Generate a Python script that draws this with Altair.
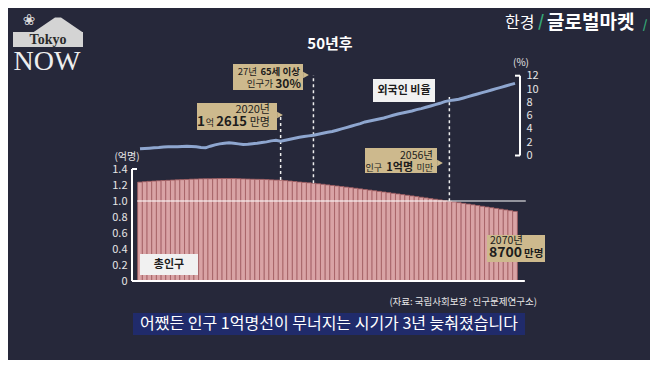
import altair as alt
import pandas as pd

# ---------------- data ----------------
years = list(range(1990, 2071))
# total population (100 million people, 억명)
population = [
    1.2361, 1.2410, 1.2457, 1.2494, 1.2527, 1.2557, 1.2586, 1.2616, 1.2649, 1.2667,
    1.2693, 1.2729, 1.2744, 1.2769, 1.2779, 1.2777, 1.2790, 1.2803, 1.2808, 1.2803,
    1.2806, 1.2783, 1.2759, 1.2741, 1.2724, 1.2709, 1.2704, 1.2679, 1.2644, 1.2617,
    1.2615, 1.2550, 1.2495, 1.2435, 1.2372, 1.2326, 1.2272, 1.2215, 1.2154, 1.2088,
    1.2012, 1.1945, 1.1877, 1.1808, 1.1736, 1.1664, 1.1590, 1.1515, 1.1439, 1.1362,
    1.1284, 1.1205, 1.1125, 1.1044, 1.0962, 1.0880, 1.0798, 1.0716, 1.0634, 1.0551,
    1.0469, 1.0385, 1.0302, 1.0218, 1.0135, 1.0051, 0.9965, 0.9880, 0.9794, 0.9704,
    0.9615, 0.9523, 0.9431, 0.9339, 0.9248, 0.9159, 0.9071, 0.8977, 0.8885, 0.8792,
    0.8700,
]
# share of foreign residents (%)
foreign_ratio = [
    1.00, 1.05, 1.10, 1.15, 1.20, 1.28, 1.30, 1.30, 1.32, 1.35,
    1.38, 1.35, 1.30, 1.20, 1.15, 1.40, 1.60, 1.75, 1.85, 1.90,
    1.85, 1.75, 1.65, 1.70, 1.78, 1.85, 1.95, 2.05, 2.20, 2.30,
    2.15, 2.30, 2.45, 2.60, 2.75, 2.85, 2.95, 3.05, 3.20, 3.35,
    3.50, 3.60, 3.80, 4.00, 4.20, 4.40, 4.60, 4.80, 5.05, 5.20,
    5.35, 5.50, 5.65, 5.85, 6.05, 6.25, 6.40, 6.55, 6.70, 6.90,
    7.05, 7.25, 7.45, 7.65, 7.85, 8.10, 8.25, 8.35, 8.45, 8.65,
    8.85, 9.05, 9.25, 9.45, 9.65, 9.85, 10.05, 10.25, 10.45, 10.65,
    10.85,
]
x_ticks = [1990, 2000, 2010, 2020, 2030, 2040, 2050, 2060, 2070]
pop_ticks = [0, 0.2, 0.4, 0.6, 0.8, 1.0, 1.2, 1.4]
ratio_ticks = [0, 2, 4, 6, 8, 10, 12]
marker_years = [2020, 2027, 2056]
marker_tops = [2.075, 2.575, 2.3]

# ---------------- style ----------------
FONT = "Noto Sans CJK KR"
SERIF = "Liberation Serif"
BG = "#26283a"
TAN = "#cdb98d"
INK = "#1c1c1c"
W, H = 642, 352
X_DOM = [1961.84, 2098.8]
YB_DOM = [-0.9875, 3.4125]
YL_DOM = [-30.75, 22.18]

xs = alt.Scale(domain=X_DOM, nice=False, zero=False)
ybs = alt.Scale(domain=YB_DOM, nice=False, zero=False)
yls = alt.Scale(domain=YL_DOM, nice=False, zero=False)

df = pd.DataFrame({"year": years, "pop": population, "ratio": foreign_ratio})
one = pd.DataFrame({"k": [0]})

bars = alt.Chart(df).transform_calculate(
    x0="datum.year - 0.5", x1="datum.year + 0.5", base="0"
).mark_bar(fill="#d9a3a5", stroke="#a45f63", strokeWidth=0.8).encode(
    x=alt.X("x0:Q", scale=xs, axis=alt.Axis(
        orient="bottom", offset=-79, values=x_ticks,
        labelExpr="datum.value == 1990 ? '1990년' : datum.value == 2000 ? '2000' : toString(datum.value - 2000)",
        domain=False, ticks=False, grid=False, labelColor="#e6e6e6", labelFont=FONT,
        labelFontSize=11, labelPadding=3, labelOverlap=False, title=None)),
    x2="x1:Q",
    y=alt.Y("pop:Q", scale=ybs, axis=alt.Axis(
        orient="left", offset=-124, values=pop_ticks,
        labelExpr="datum.value == 0 ? '0' : format(datum.value, '.1f')",
        domain=False, ticks=False, grid=False, labelColor="#e6e6e6", labelFont=FONT,
        labelFontSize=11, labelPadding=5, labelOverlap=False, title=None)),
    y2="base:Q",
)

one_line = pd.DataFrame({"x0": [1989.4], "x1": [2072.3], "y": [1.0]})
rule_one = alt.Chart(one_line).mark_rule(color="#ffffff", strokeWidth=1.2).encode(
    x=alt.X("x0:Q", scale=xs, axis=None), x2="x1:Q",
    y=alt.Y("y:Q", scale=ybs, axis=None),
)

left_frame = pd.DataFrame({
    "x0": [1988.29, 1988.29, 1988.29], "x1": [1988.29, 1989.36, 2072.1],
    "y0": [0, 1.4, 0], "y1": [1.4, 1.4, 0],
})
frame_l = alt.Chart(left_frame).mark_rule(color="#ffffff", strokeWidth=2).encode(
    x=alt.X("x0:Q", scale=xs, axis=None), x2="x1:Q",
    y=alt.Y("y0:Q", scale=ybs, axis=None), y2="y1:Q",
)
right_frame = pd.DataFrame({
    "x0": [2071.07, 2070.0, 2070.0], "x1": [2071.07, 2071.07, 2071.07],
    "y0": [0, 12, 0], "y1": [12, 12, 0],
})
frame_r = alt.Chart(right_frame).mark_rule(color="#ffffff", strokeWidth=2).encode(
    x=alt.X("x0:Q", scale=xs, axis=None), x2="x1:Q",
    y=alt.Y("y0:Q", scale=yls, axis=None), y2="y1:Q",
)

markers = pd.DataFrame({
    "year": marker_years,
    "bottom": [population[years.index(y)] for y in marker_years],
    "top": marker_tops,
})
dashed = alt.Chart(markers).mark_rule(color="#eeeeee", strokeWidth=1.5, strokeDash=[3, 3]).encode(
    x=alt.X("year:Q", scale=xs, axis=None),
    y=alt.Y("bottom:Q", scale=ybs, axis=None), y2="top:Q",
)

line = alt.Chart(df).mark_line(color="#8ea6cf", strokeWidth=3).encode(
    x=alt.X("year:Q", scale=xs, axis=None),
    y=alt.Y("ratio:Q", scale=yls, axis=alt.Axis(
        orient="right", offset=-130, values=ratio_ticks, domain=False, ticks=False,
        grid=False, labelColor="#e6e6e6", labelFont=FONT, labelFontSize=11,
        labelPadding=6, labelOverlap=False, title=None)),
)


def txt(s, px, py, size=11, weight="normal", align="center", color=INK, font=FONT):
    return alt.Chart(one).mark_text(
        text=s, fontSize=size, fontWeight=weight, align=align, baseline="middle",
        color=color, font=font,
    ).encode(x=alt.value(px - 8), y=alt.value(py - 8))


def box(x0, y0, x1, y1, color):
    return alt.Chart(one).mark_rect(color=color).encode(
        x=alt.value(x0 - 8), x2=alt.value(x1 - 8), y=alt.value(y0 - 8), y2=alt.value(y1 - 8))


def pointer(px, py):
    return alt.Chart(one).mark_point(
        shape="triangle-right", filled=True, color=TAN, size=45, opacity=1
    ).encode(x=alt.value(px - 8), y=alt.value(py - 8))


mountain = alt.Chart(one).mark_point(
    shape="M -1 0.3 L -0.12 -0.3 L 0.12 -0.3 L 1 0.3 Z", filled=True,
    color="#d4d4d4", size=2500, opacity=1,
).encode(x=alt.value(58 - 8), y=alt.value(25 - 8))

layers = [
    bars, rule_one, frame_l, frame_r, dashed, line,
    # annotation boxes
    box(233, 64, 303, 90, TAN), pointer(306, 75),
    box(197, 103, 277, 130, TAN), pointer(280, 115),
    box(365, 148, 437, 173, TAN), pointer(440, 163),
    box(487, 235, 545, 262, TAN),
    box(373, 79, 435, 102, "#f1f1f1"),
    box(140, 254, 198, 275, "#f1f1f1"),
    box(133, 313, 525, 335, "#202b6b"),
    # box texts
    txt("27년", 257, 72, 9.5, align="right"),
    txt("65세 이상", 300, 72, 9.5, "bold", align="right"),
    txt("인구가", 273, 84, 9.5, align="right"),
    txt("30%", 301, 84, 12, "bold", align="right"),
    txt("2020년", 270, 110, 11, align="right"),
    txt("1", 205, 122, 13.5, "bold", align="right"),
    txt("억", 214, 123, 9, align="right"),
    txt("2615", 247, 122, 13, "bold", align="right"),
    txt("만명", 270, 123, 11, align="right"),
    txt("2056년", 433, 156, 10.5, align="right"),
    txt("인구", 382, 168, 9, align="right"),
    txt("1억명", 413, 168, 11, "bold", align="right"),
    txt("미만", 433, 168, 9, align="right"),
    txt("2070년", 490, 241, 10.5, align="left"),
    txt("8700", 489, 253, 14, "bold", align="left"),
    txt("만명", 524, 254, 10.5, "bold", align="left"),
    txt("외국인 비율", 404, 91, 11, "bold"),
    txt("총인구", 169, 265, 11, "bold"),
    # axis unit labels
    txt("(%)", 521, 63, 10, color="#e6e6e6"),
    txt("(억명)", 127, 157, 10, color="#e6e6e6"),
    # titles and captions
    txt("50년후", 330, 44, 15, "bold", color="#ffffff"),
    txt("(자료: 국립사회보장·인구문제연구소)", 537, 302, 9.5, align="right", color="#e6e6e6"),
    txt("어쨌든 인구 1억명선이 무너지는 시기가 3년 늦춰졌습니다", 329, 324, 16, color="#ffffff"),
    # logos
    mountain,
    txt("❀", 29, 20, 15, color="#dddddd", font="DejaVu Sans"),
    box(13, 32, 83, 47, "#d4d4d4"),
    txt("Tokyo", 48, 39.5, 14, "bold", color="#2a2a2a", font=SERIF),
    txt("NOW", 47, 62, 28, color="#eeeeee", font=SERIF),
    txt("한경", 505, 23, 16, align="left", color="#ffffff"),
    txt("/", 541, 22, 16, "bold", color="#35a777"),
    txt("글로벌마켓", 547, 23, 19, "bold", align="left", color="#ffffff"),
    txt("/", 645, 25, 12, "bold", color="#35a777"),
]

chart = alt.layer(*layers).resolve_scale(y="independent").properties(
    width=W, height=H, background=BG, padding=0,
    autosize=alt.AutoSizeParams(type="none"),
).configure_view(stroke=None)

chart.save("out.html", embed_options={"renderer": "svg", "actions": False})
